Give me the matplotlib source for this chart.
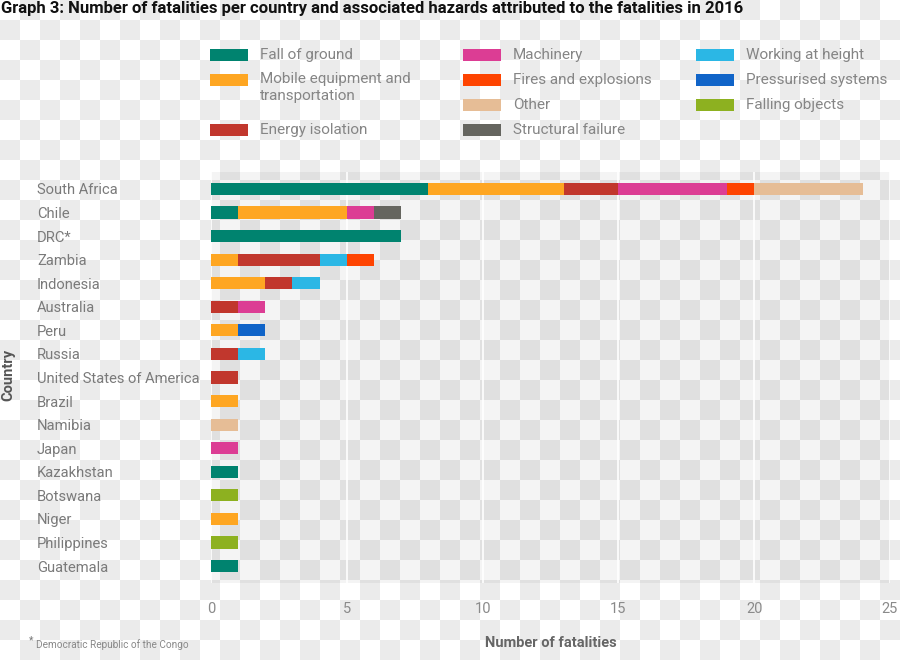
import numpy as np
import matplotlib
matplotlib.use("Agg")
import matplotlib.pyplot as plt
from matplotlib.patches import Rectangle

# ---------------- data ----------------
countries = ["South Africa", "Chile", "DRC*", "Zambia", "Indonesia", "Australia",
             "Peru", "Russia", "United States of America", "Brazil", "Namibia",
             "Japan", "Kazakhstan", "Botswana", "Niger", "Philippines", "Guatemala"]

fall_of_ground      = [8, 1, 7, 0, 0, 0, 0, 0, 0, 0, 0, 0, 1, 0, 0, 0, 1]
mobile_equipment    = [5, 4, 0, 1, 2, 0, 1, 0, 0, 1, 0, 0, 0, 0, 1, 0, 0]
energy_isolation    = [2, 0, 0, 3, 1, 1, 0, 1, 1, 0, 0, 0, 0, 0, 0, 0, 0]
machinery           = [4, 1, 0, 0, 0, 1, 0, 0, 0, 0, 0, 1, 0, 0, 0, 0, 0]
working_at_height   = [0, 0, 0, 1, 1, 0, 0, 1, 0, 0, 0, 0, 0, 0, 0, 0, 0]
fires_explosions    = [1, 0, 0, 1, 0, 0, 0, 0, 0, 0, 0, 0, 0, 0, 0, 0, 0]
other               = [4, 0, 0, 0, 0, 0, 0, 0, 0, 0, 1, 0, 0, 0, 0, 0, 0]
structural_failure  = [0, 1, 0, 0, 0, 0, 0, 0, 0, 0, 0, 0, 0, 0, 0, 0, 0]
pressurised_systems = [0, 0, 0, 0, 0, 0, 1, 0, 0, 0, 0, 0, 0, 0, 0, 0, 0]
falling_objects     = [0, 0, 0, 0, 0, 0, 0, 0, 0, 0, 0, 0, 0, 1, 0, 1, 0]

xticks = [0, 5, 10, 15, 20, 25]

title = ("Graph 3: Number of fatalities per country and associated hazards "
         "attributed to the fatalities in 2016")

series = [
    ("Fall of ground", fall_of_ground, "#00836f"),
    ("Mobile equipment and\ntransportation", mobile_equipment, "#fea622"),
    ("Energy isolation", energy_isolation, "#c1372d"),
    ("Machinery", machinery, "#dc3d94"),
    ("Working at height", working_at_height, "#2bb7e5"),
    ("Fires and explosions", fires_explosions, "#fe4401"),
    ("Other", other, "#e6bd96"),
    ("Structural failure", structural_failure, "#65655f"),
    ("Pressurised systems", pressurised_systems, "#1064c8"),
    ("Falling objects", falling_objects, "#8db120"),
]
colors = {name: c for name, _, c in series}

# ---------------- figure ----------------
W, H = 900, 660
fig = plt.figure(figsize=(W / 100, H / 100), dpi=100)
fig.patch.set_facecolor("white")

def fx(px):
    return px / W

def fy(py):
    return 1 - py / H

# checkerboard background
bg = fig.add_axes([0, 0, 1, 1], zorder=-10)
ny, nx = H // 20 + 1, W // 20 + 1
ii, jj = np.meshgrid(np.arange(nx), np.arange(ny))
checker = ((ii + jj) % 2 == 1).astype(float)
bg.imshow(np.where(checker[..., None] == 1, 0.922, 1.0) * np.ones((1, 1, 3)),
          extent=[0, nx * 20, ny * 20, 0], interpolation="nearest", aspect="auto")
bg.set_xlim(0, W)
bg.set_ylim(H, 0)
bg.axis("off")

font = "Roboto"
plt.rcParams["font.family"] = [font, "DejaVu Sans"]

# main axes
left, right, top, bottom = 211, 890, 172, 583
ax = fig.add_axes([fx(left), fy(bottom), fx(right - left), (bottom - top) / H])
ax.set_facecolor((0, 0, 0, 0.045))

y = np.arange(len(countries))
base = np.zeros(len(countries))
for name, vals, c in series:
    v = np.array(vals, dtype=float)
    ax.barh(y, v, left=base, height=0.52, color=c, edgecolor="none", zorder=3)
    base += v

ax.set_xlim(0, 25.0)
ax.set_ylim(len(countries) - 1 + 0.72, -0.72)
ax.set_xticks(xticks)
ax.set_xticklabels([str(t) for t in xticks])
ax.grid(axis="x", color="white", linewidth=1.2, zorder=1)
ax.set_axisbelow(True)
for s in ax.spines.values():
    s.set_visible(False)
ax.tick_params(axis="x", length=0, pad=14, labelsize=10.5, labelcolor="#8a8a8a")
ax.set_yticks(y)
ax.set_yticklabels(countries)
ax.tick_params(axis="y", length=0, pad=(left - 37) * 0.72, labelsize=10.6,
               labelcolor="#7a7a7a")
for lab in ax.get_yticklabels():
    lab.set_horizontalalignment("left")

# axis titles
fig.text(fx(8), fy(375), "Country", rotation=90, ha="center", va="center",
         fontsize=10.5, fontweight="bold", color="#555555")
fig.text(fx(551), fy(643), "Number of fatalities", ha="center", va="center",
         fontsize=10.5, fontweight="bold", color="#666666")

# title
fig.text(fx(1), fy(9), title, ha="left", va="center", fontsize=12,
         fontweight="bold", color="#111111")

# footnote
fig.text(fx(29), fy(640), "*", ha="left", va="center", fontsize=7.5, color="#777777")
fig.text(fx(36), fy(645), "Democratic Republic of the Congo", ha="left",
         va="center", fontsize=7.2, color="#888888")

# legend (manual)
legend_pos = {
    "Fall of ground": (210, 55),
    "Mobile equipment and\ntransportation": (210, 80),
    "Energy isolation": (210, 130),
    "Machinery": (463, 55),
    "Fires and explosions": (463, 80),
    "Other": (463, 105),
    "Structural failure": (463, 130),
    "Working at height": (696, 55),
    "Pressurised systems": (696, 80),
    "Falling objects": (696, 105),
}
for name, (px, py) in legend_pos.items():
    fig.patches.append(Rectangle((fx(px), fy(py + 6)), fx(38), 12 / H,
                                 transform=fig.transFigure, facecolor=colors[name],
                                 edgecolor="none"))
    if "\n" in name:
        fig.text(fx(px + 50), fy(py - 8), name, ha="left", va="top",
                 fontsize=11, color="#858585", linespacing=1.3)
    else:
        fig.text(fx(px + 50), fy(py), name, ha="left", va="center",
                 fontsize=11, color="#858585")

fig.savefig("out.png", dpi=100, facecolor=fig.get_facecolor())
